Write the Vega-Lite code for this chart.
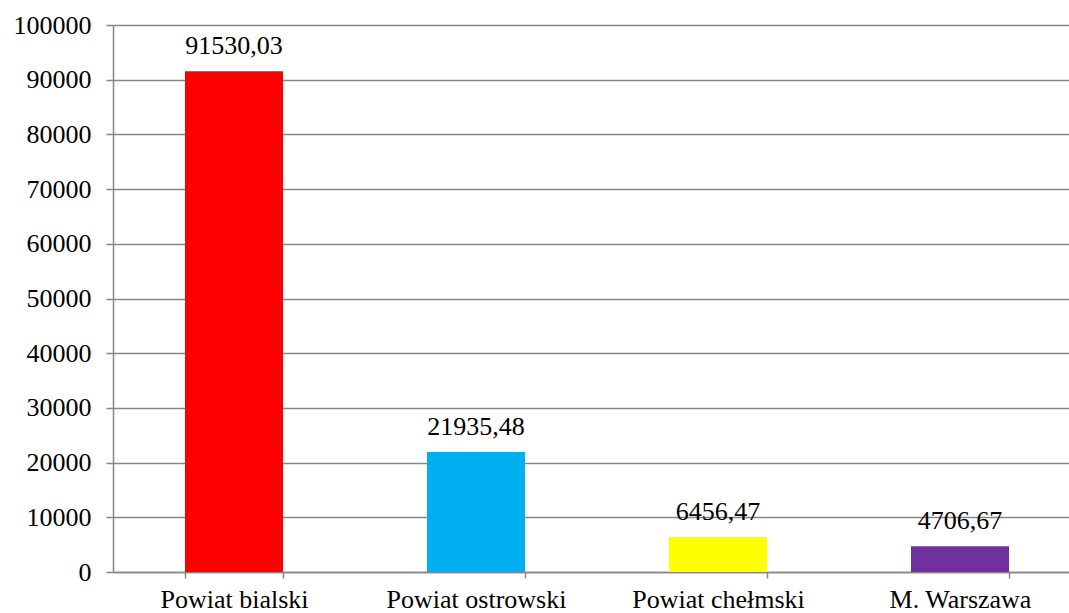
{
  "$schema": "https://vega.github.io/schema/vega-lite/v6.json",
  "autosize": "none",
  "width": 968,
  "height": 547,
  "padding": {"left": 113, "top": 25, "right": 0, "bottom": 41},
  "background": "white",
  "config": {
    "view": {"stroke": null},
    "font": "'Liberation Serif', 'Times New Roman', serif",
    "locale": {"number": {"decimal": ",", "thousands": "", "grouping": [3], "currency": ["", ""]}}
  },
  "data": {
    "values": [
      {"powiat": "Powiat bialski", "value": 91530.03},
      {"powiat": "Powiat ostrowski", "value": 21935.48},
      {"powiat": "Powiat chełmski", "value": 6456.47},
      {"powiat": "M. Warszawa", "value": 4706.67}
    ]
  },
  "encoding": {
    "x": {
      "field": "powiat",
      "type": "nominal",
      "sort": null,
      "scale": {"paddingInner": 0.595, "paddingOuter": 0.2975},
      "axis": {
        "title": null,
        "labelAngle": 0,
        "labelFont": "'Liberation Serif', 'Times New Roman', serif",
        "labelFontSize": 26,
        "labelColor": "black",
        "labelPadding": 8,
        "domainColor": "#868686",
        "domainWidth": 1.5,
        "tickColor": "#868686",
        "tickWidth": 1.5,
        "tickSize": 6,
        "tickBand": "extent",
        "grid": false
      }
    },
    "y": {
      "field": "value",
      "type": "quantitative",
      "scale": {"domain": [0, 100000], "nice": false},
      "axis": {
        "title": null,
        "values": [0, 10000, 20000, 30000, 40000, 50000, 60000, 70000, 80000, 90000, 100000],
        "format": "d",
        "labelFont": "'Liberation Serif', 'Times New Roman', serif",
        "labelFontSize": 26,
        "labelColor": "black",
        "labelPadding": 15,
        "domainColor": "#868686",
        "domainWidth": 1.5,
        "tickColor": "#868686",
        "tickWidth": 1.5,
        "tickSize": 7,
        "grid": true,
        "gridColor": "#868686",
        "gridWidth": 1.5
      }
    }
  },
  "layer": [
    {
      "mark": {"type": "bar"},
      "encoding": {
        "color": {
          "field": "powiat",
          "type": "nominal",
          "sort": null,
          "scale": {"range": ["#FF0000", "#00B0F0", "#FFFF00", "#7030A0"]},
          "legend": null
        }
      }
    },
    {
      "mark": {"type": "text", "baseline": "bottom", "dy": -12, "fontSize": 26, "font": "'Liberation Serif', 'Times New Roman', serif", "color": "black"},
      "encoding": {
        "text": {"field": "value", "type": "quantitative", "format": ".2f"}
      }
    }
  ]
}
